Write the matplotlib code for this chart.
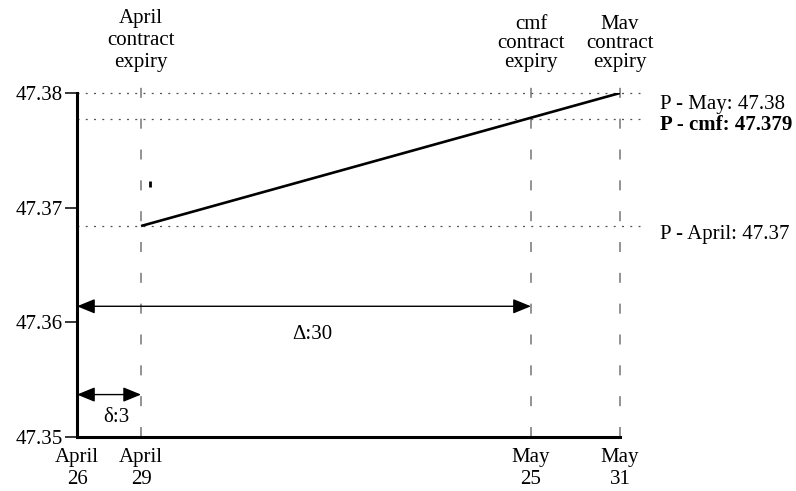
import matplotlib.pyplot as plt

plt.rcParams['font.family'] = ['Liberation Serif', 'DejaVu Serif']
plt.rcParams['font.size'] = 15

# time axis is schematic (not to scale)
x_pos = [0.0, 0.118, 0.836, 1.0]
x_labels = ['April\n26', 'April\n29', 'May\n25', 'May\n31']

y_ticks = [47.35, 47.36, 47.37, 47.38]
y_labels = ['47.35', '47.36', '47.37', '47.38']

# prices as drawn in the figure
p_april = 47.3684
p_cmf = 47.3777
p_may = 47.38
price_levels = [p_may, p_cmf, p_april]
price_labels = ['P - May: 47.38', 'P - cmf: 47.379', 'P - April: 47.37']

expiry_x = [x_pos[1], x_pos[2], x_pos[3]]
expiry_labels = [['April', 'contract', 'expiry'],
                 ['cmf', 'contract', 'expiry'],
                 ['Mav', 'contract', 'expiry']]

delta_label = '\u0394:30'
delta_y = 47.3614
small_delta_label = '\u03b4:3'
small_delta_y = 47.3537

# stray mark in the original drawing
stray_x = 0.134
stray_y = 47.3721

fig = plt.figure(figsize=(7.96, 4.91), dpi=100)
ax = fig.add_axes([77/796, 54/491, 543/796, 344/491])
ax.set_xlim(0, 1)
ax.set_ylim(47.35, 47.38)

for s in ['top', 'right']:
    ax.spines[s].set_visible(False)
for s in ['left', 'bottom']:
    ax.spines[s].set_linewidth(2.2)

ax.set_yticks(y_ticks, labels=y_labels)
ax.tick_params(axis='y', length=8.5, width=1.1, pad=2, labelsize=15)
ax.set_xticks(x_pos, labels=x_labels)
ax.tick_params(axis='x', length=0, pad=8, labelsize=15)
for t in ax.get_xticklabels():
    t.set_linespacing(1.2)

# vertical dashed expiry lines
for x in expiry_x:
    ax.plot([x, x], [47.35, 47.3814], color='#808080', lw=1.2,
            dashes=(6, 12.5), clip_on=False, zorder=1)

# horizontal dotted price levels
trans = ax.get_yaxis_transform()
label_dy = [-1.5, 3.5, 1]
for i, p in enumerate(price_levels):
    ax.plot([0, 1.046], [p, p], color='#555555', lw=0.9, dashes=(1.6, 5),
            transform=trans, clip_on=False, zorder=1)
    ax.annotate(price_labels[i], xy=(1.074, p), xycoords=trans,
                xytext=(0, label_dy[i]), textcoords='offset points',
                ha='left', va='top', fontsize=15,
                fontweight='bold' if i == 1 else 'normal',
                annotation_clip=False)

# price path from April expiry to May expiry
ax.plot([x_pos[1], x_pos[3]], [p_april, p_may], color='black', lw=1.9,
        solid_capstyle='butt', zorder=3)

ax.plot([stray_x], [stray_y], marker='|', markersize=4, mew=2, color='black')

# expiry labels above the axes
xtrans = ax.get_xaxis_transform()
line_offsets = [[70, 48, 26], [64, 45, 26], [64, 45, 26]]
for x, lines, offs in zip(expiry_x, expiry_labels, line_offsets):
    for line, o in zip(lines, offs):
        ax.annotate(line, xy=(x, 1), xycoords=xtrans,
                    xytext=(0, o * 0.72), textcoords='offset points',
                    ha='center', va='baseline', fontsize=15,
                    annotation_clip=False)

# interval arrows
arrow = dict(arrowstyle='<|-|>,head_length=1.1,head_width=0.45',
             mutation_scale=10, color='black', lw=1.0,
             shrinkA=0, shrinkB=0)
ax.annotate('', xy=(x_pos[0], delta_y), xytext=(x_pos[2], delta_y),
            arrowprops=arrow)
ax.annotate('', xy=(x_pos[0], small_delta_y), xytext=(x_pos[1], small_delta_y),
            arrowprops=arrow)
ax.text(0.433, 47.3589, delta_label, ha='center', va='center', fontsize=15)
ax.text(0.072, 47.3517, small_delta_label, ha='center', va='center', fontsize=15)

fig.savefig('out.png', dpi=100)
